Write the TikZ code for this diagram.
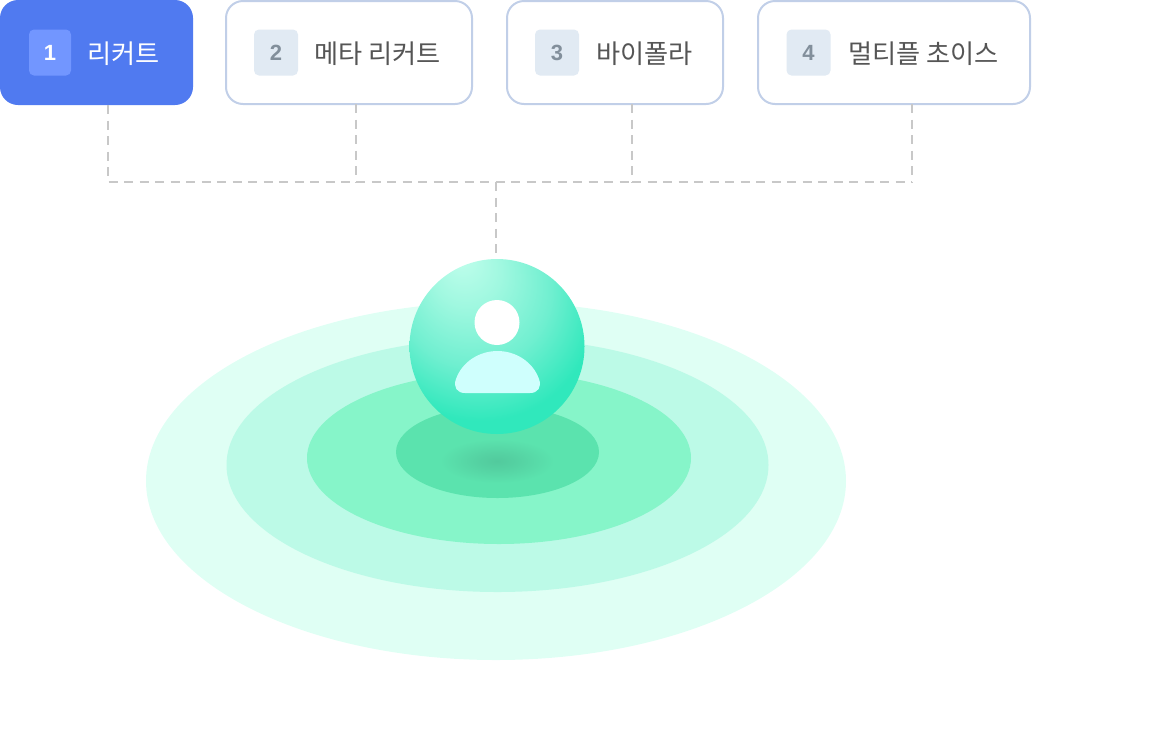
\documentclass[tikz,border=0pt]{standalone}
\usepackage{fontspec}
\setmainfont{Liberation Sans}
\newfontfamily\krfont{Noto Sans CJK KR}
\usetikzlibrary{calc}

\definecolor{boxblue}{HTML}{507AF0}
\definecolor{boxline}{HTML}{C1CFE8}
\definecolor{badgeblue}{HTML}{7296FF}
\definecolor{badgepale}{HTML}{E1EAF3}
\definecolor{numgray}{HTML}{828F9B}
\definecolor{textgray}{HTML}{555555}
\definecolor{dashgray}{HTML}{C8C8C8}
\definecolor{ringA}{HTML}{DFFFF4}
\definecolor{ringB}{HTML}{BCFAE7}
\definecolor{ringC}{HTML}{86F5C9}
\definecolor{ringD}{HTML}{5BE3AE}
\definecolor{shadowgreen}{HTML}{52CA9D}
\definecolor{bodycyan}{HTML}{CFFFFD}
\definecolor{sphereA}{HTML}{C0FEEC}
\definecolor{sphereB}{HTML}{A0F8E0}
\definecolor{sphereC}{HTML}{70EFD0}
\definecolor{sphereD}{HTML}{30E8BC}
\definecolor{sphereE}{HTML}{82F0D2}
\definecolor{sphereF}{HTML}{96F4D8}

\pgfdeclareradialshading{spherefill}{\pgfpoint{-10.6bp}{26bp}}{%
  color(0bp)=(sphereA);
  color(10bp)=(sphereB);
  color(22bp)=(sphereC);
  color(33bp)=(sphereD);
  color(38bp)=(sphereD);
  color(44bp)=(sphereE);
  color(60bp)=(sphereF)}
\pgfdeclareradialshading{shadowfill}{\pgfpoint{0bp}{0bp}}{%
  color(0bp)=(shadowgreen);
  color(8bp)=(shadowgreen!70!ringD);
  color(23bp)=(ringD);
  color(50bp)=(ringD)}

\tikzset{
  optbox/.style={draw=boxline, line width=2pt, rounded corners=17pt, fill=white,
    minimum height=103pt, inner sep=0pt, outer sep=0pt},
  optboxon/.style={fill=boxblue, rounded corners=18pt, minimum width=193pt,
    minimum height=105pt, inner sep=0pt, outer sep=0pt},
  numbadge/.style={fill=badgepale, text=numgray, rounded corners=5pt, minimum height=46pt,
    minimum width=44pt, inner sep=0pt, font=\bfseries\fontsize{22}{22}\selectfont},
  optlabel/.style={anchor=west, inner sep=0pt, text=textgray,
    font=\krfont\fontsize{26.2}{26.2}\selectfont},
  dashlink/.style={draw=dashgray, line width=2pt, dash pattern=on 9pt off 6.5pt},
}

\begin{document}
\begin{tikzpicture}[x=1pt, y=-1pt]
  \useasboundingbox (0,0) rectangle (1156,748);

  % rings
  \fill[ringA] (496,481) ellipse (350 and 179);
  \fill[ringB] (497.5,465) ellipse (271 and 127);
  \fill[ringC] (499,458) ellipse (192 and 86);
  \fill[ringD] (497.5,452) ellipse (101.5 and 46);
  \shade[shading=shadowfill] (497,461) ellipse (62 and 24);

  % option boxes
  \node[optboxon] (box1) at (96.5,52.5) {};
  \node[optbox, minimum width=246pt] (box2) at (349,52.5) {};
  \node[optbox, minimum width=216pt] (box3) at (615,52.5) {};
  \node[optbox, minimum width=272pt] (box4) at (894,52.5) {};

  \node[numbadge, fill=badgeblue, text=white, minimum width=42pt] (num1) at (50,52.5) {1};
  \node[numbadge] (num2) at (276,52.5) {2};
  \node[numbadge] (num3) at (557,52.5) {3};
  \node[numbadge] (num4) at (808.5,52.5) {4};

  \node[optlabel, text=white] (lab1) at (87,53.5) {리커트};
  \node[optlabel] (lab2) at (314,53.5) {메타 리커트};
  \node[optlabel] (lab3) at (596,53.5) {바이폴라};
  \node[optlabel] (lab4) at (848,53.5) {멀티플 초이스};

  % user sphere
  \node[circle, minimum size=175pt, inner sep=0pt, outer sep=0pt, shading=spherefill] (user) at (497,346.5) {};
  \node[circle, fill=white, minimum size=45pt, inner sep=0pt] (head) at (497,322.5) {};
  \fill[bodycyan] (465,393) .. controls (457,393) and (453,387) .. (456,379)
    .. controls (462,362) and (479,351) .. (497.5,351)
    .. controls (516,351) and (533,362) .. (539,379)
    .. controls (542,387) and (538,393) .. (530,393) -- cycle;

  % connectors
  \coordinate (bus1) at (108,182);
  \coordinate (bus2) at (356,182);
  \coordinate (bus3) at (632,182);
  \coordinate (bus4) at (912,182);
  \coordinate (busm) at (496,182);
  \draw[dashlink] (box1.south -| bus1)--(bus1)--(bus2);
  \draw[dashlink] (box2.south -| bus2)--(bus2);
  \draw[dashlink] (bus2)--(bus3);
  \draw[dashlink] (box3.south -| bus3)--(bus3);
  \draw[dashlink] (bus3)--(bus4);
  \draw[dashlink] (box4.south -| bus4)--(bus4);
  \draw[dashlink] (busm)--($(user.north -| busm)+(0,-4)$);
\end{tikzpicture}
\end{document}
